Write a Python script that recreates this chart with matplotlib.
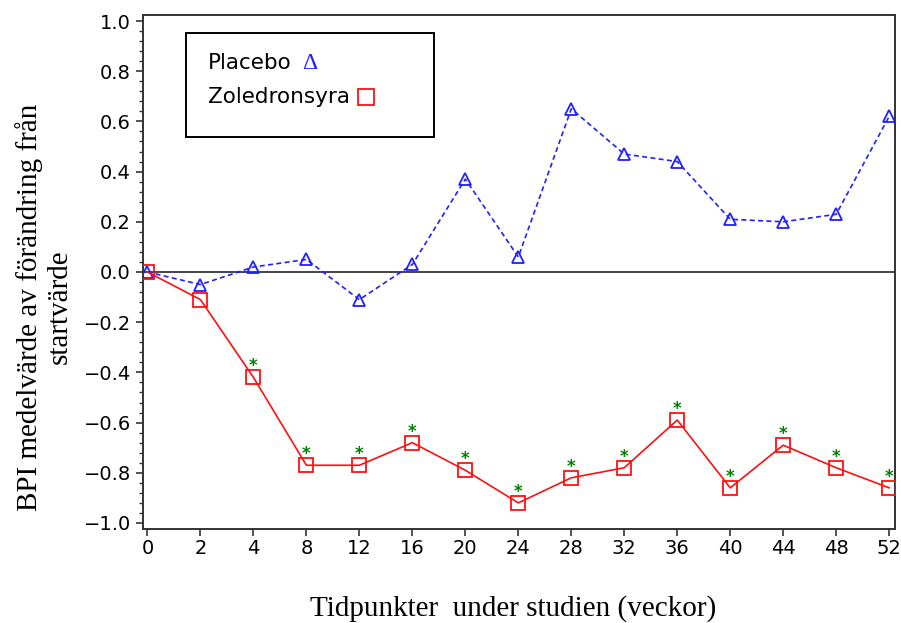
import numpy as np
import matplotlib.pyplot as plt
from matplotlib.patches import Rectangle
from matplotlib.ticker import MultipleLocator

# data
veckor = ['0', '2', '4', '8', '12', '16', '20', '24', '28', '32', '36', '40', '44', '48', '52']
placebo = [0.0, -0.05, 0.02, 0.05, -0.11, 0.03, 0.37, 0.06, 0.65, 0.47, 0.44, 0.21, 0.20, 0.23, 0.62]
zoledron = [0.0, -0.11, -0.42, -0.77, -0.77, -0.68, -0.79, -0.92, -0.82, -0.78, -0.59, -0.86, -0.69, -0.78, -0.86]
signif = [False, False, True, True, True, True, True, True, True, True, True, True, True, True, True]

x = np.arange(len(veckor))

fig = plt.figure(figsize=(9.01, 6.23), dpi=100)
ax = fig.add_axes([142.7/901, 1-529/623, 752.3/901, 514/623])

ax.axhline(0, color='#444444', lw=1.4, zorder=1)

ax.plot(x, placebo, color='#2020ff', ls=(0, (3, 2)), lw=1.2, marker='^', ms=8.5,
        mfc='none', mec='#2020ff', mew=1.3, zorder=3)
ax.plot(x, zoledron, color='#ff1010', ls='-', lw=1.2, marker='s', ms=9.5,
        mfc='none', mec='#ff1010', mew=1.3, zorder=3)

# stjärnor för signifikans
for xi, yi, s in zip(x, zoledron, signif):
    if s:
        ax.annotate('*', (xi, yi), xytext=(0, 1.5), textcoords='offset points',
                    ha='center', va='bottom', color='#008000', fontsize=12,
                    fontweight='bold')

ax.set_xlim(-0.09, 14.11)
ax.set_ylim(-1.024, 1.024)
ax.set_xticks(x)
ax.set_xticklabels(veckor)
ax.yaxis.set_major_locator(MultipleLocator(0.2))
ax.yaxis.set_minor_locator(MultipleLocator(0.04))
ax.yaxis.set_major_formatter(plt.FuncFormatter(
    lambda v, p: ('%.1f' % v).replace('-', '\u2212') if abs(v) > 1e-9 else '0.0'))

ax.tick_params(axis='both', which='major', direction='out', length=5, width=1.2,
               labelsize=14, color='#333333')
ax.tick_params(axis='y', which='minor', direction='out', length=3, width=1.0, color='#333333')
ax.tick_params(axis='x', pad=2)
for sp in ax.spines.values():
    sp.set_color('#333333')
    sp.set_linewidth(1.4)

ax.set_ylabel('BPI medelvärde av förändring från\nstartvärde', family='Liberation Serif',
              fontsize=21, linespacing=1.2, va='center')
ax.yaxis.set_label_coords(-0.131, 0.432)
ax.set_xlabel('Tidpunkter  under studien (veckor)', family='Liberation Serif',
              fontsize=21, va='center')
ax.xaxis.set_label_coords(0.493, -0.154)

# legend box
ax.add_patch(Rectangle((0.0576, 0.763), 0.3295, 0.202, transform=ax.transAxes,
                       fill=False, ec='black', lw=1.4, zorder=5))
ax.text(0.0868, 0.907, 'Placebo', transform=ax.transAxes, fontsize=15.5, va='center', ha='left')
ax.text(0.212, 0.905, '\u0394', transform=ax.transAxes, fontsize=17, va='center', ha='left',
        color='#2020ff', family='Liberation Serif')
ax.text(0.0868, 0.840, 'Zoledronsyra', transform=ax.transAxes, fontsize=15.5, va='center', ha='left')
ax.plot([0.297], [0.840], transform=ax.transAxes, marker='s', ms=11, mfc='none',
        mec='#ff1010', mew=1.3, ls='none', clip_on=False)

fig.savefig('out.png', dpi=100)
